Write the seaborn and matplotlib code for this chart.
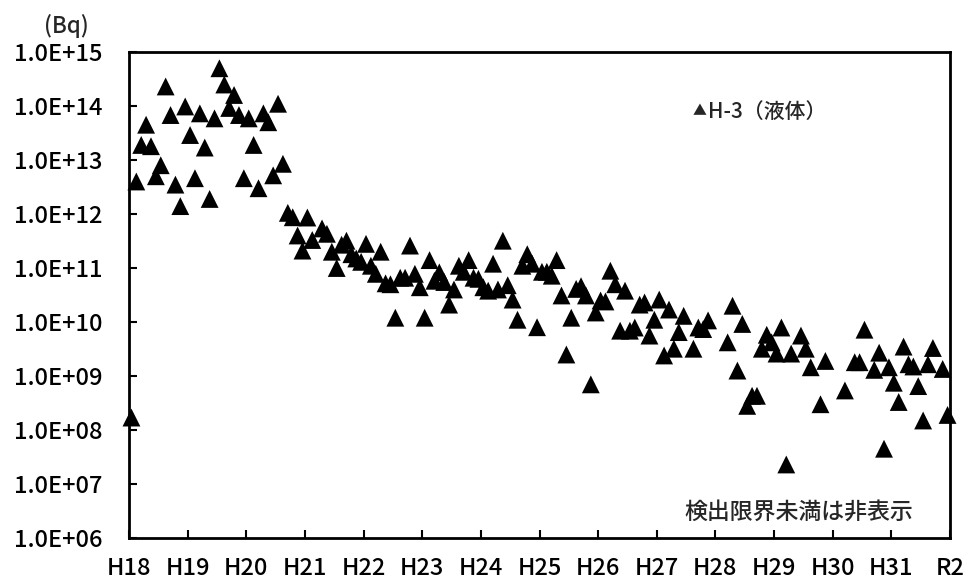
import numpy as np
import pandas as pd
import matplotlib
matplotlib.use("Agg")
import matplotlib.pyplot as plt
import seaborn as sns

# Monthly H-3 (liquid) release, months counted from April H18 (0) to March R2 (167).
# Months below the detection limit are left out.
months = [
    0, 1, 2, 3, 4, 5, 6, 7, 8, 9, 10, 11, 12, 13, 14, 15, 16, 17, 18, 19,
    20, 21, 22, 23, 24, 25, 26, 27, 28, 29, 30, 31, 32, 33, 34, 35, 36, 37, 39, 40,
    41, 42, 43, 44, 45, 46, 47, 48, 49, 50, 51, 52, 53, 54, 55, 56, 57, 58, 59, 60,
    61, 62, 63, 64, 65, 66, 67, 68, 69, 70, 71, 72, 73, 74, 75, 76, 77, 78, 79, 80,
    81, 82, 83, 84, 85, 86, 87, 88, 89, 90, 91, 92, 93, 94, 95, 96, 97, 98, 99, 100,
    101, 102, 103, 104, 105, 106, 107, 108, 109, 110, 111, 112, 113, 115, 116, 117, 118,
    122, 123, 124, 125, 126, 127, 128, 129, 130, 131, 132, 133, 134, 135, 137, 138, 139,
    141, 142, 146, 148, 149, 150, 152, 153, 154, 155, 156, 157, 158, 159, 160, 161, 162,
    163, 164, 166, 167,
]
h3_bq = [
    1.7e8, 4.0e12, 1.9e13, 4.5e13, 1.8e13, 5.0e12, 8.0e12, 2.3e14, 6.8e13, 3.5e12,
    1.4e12, 9.8e13, 2.9e13, 4.6e12, 7.3e13, 1.7e13, 1.9e12, 5.9e13, 5.0e14, 2.5e14,
    9.2e13, 1.6e14, 6.8e13, 4.6e12, 5.9e13, 1.9e13, 3.0e12, 7.3e13, 5.0e13, 5.2e12,
    1.1e14, 8.5e12, 1.05e12, 8.7e11, 4.0e11, 2.1e11, 8.6e11, 3.3e11, 5.4e11, 4.3e11,
    2.0e11, 1.0e11, 2.7e11, 3.2e11, 1.8e11, 1.5e11, 1.3e11, 2.8e11, 1.1e11, 7.8e10,
    2.0e11, 5.2e10, 5.0e10, 1.2e10, 6.6e10, 6.6e10, 2.6e11, 7.8e10, 4.4e10, 1.2e10,
    1.4e11, 5.8e10, 8.3e10, 5.5e10, 2.1e10, 4.0e10, 1.1e11, 8.5e10, 1.4e11, 6.6e10,
    6.3e10, 4.4e10, 3.8e10, 1.2e11, 4.0e10, 3.2e11, 4.8e10, 2.6e10, 1.1e10, 1.1e11,
    1.8e11, 1.2e11, 8.0e9, 8.5e10, 8.5e10, 7.2e10, 1.4e11, 3.1e10, 2.5e9, 1.2e10,
    4.1e10, 4.6e10, 3.1e10, 7.0e8, 1.5e10, 2.5e10, 2.4e10, 8.9e10, 5.0e10, 6.9e9,
    3.8e10, 6.9e9, 7.9e9, 2.1e10, 2.3e10, 5.6e9, 1.1e10, 2.6e10, 2.4e9, 1.7e10,
    3.2e9, 6.5e9, 1.3e10, 3.2e9, 7.9e9, 7.4e9, 1.07e10,
    4.2e9, 2.0e10, 1.26e9, 9.2e9, 2.8e8, 4.3e8, 4.3e8, 3.2e9, 5.8e9, 4.2e9, 2.6e9,
    7.9e9, 2.3e7, 2.6e9, 5.6e9, 3.2e9, 1.45e9,
    3.0e8, 1.9e9, 5.4e8, 1.8e9, 1.8e9, 7.2e9, 1.3e9, 2.7e9, 4.5e7, 1.45e9, 7.5e8,
    3.3e8, 3.5e9, 1.65e9, 1.5e9, 6.5e8, 1.5e8,
    1.65e9, 3.3e9, 1.35e9, 1.9e8,
]

year_labels = ["H18", "H19", "H20", "H21", "H22", "H23", "H24", "H25",
               "H26", "H27", "H28", "H29", "H30", "H31", "R2"]
y_ticks = [1e6, 1e7, 1e8, 1e9, 1e10, 1e11, 1e12, 1e13, 1e14, 1e15]
y_tick_labels = ["1.0E+06", "1.0E+07", "1.0E+08", "1.0E+09", "1.0E+10",
                 "1.0E+11", "1.0E+12", "1.0E+13", "1.0E+14", "1.0E+15"]

df = pd.DataFrame({"month": months, "bq": h3_bq})
df["year"] = (df["month"] + 0.5) / 12.0

sns.set_theme(style="white")
plt.rcParams["font.family"] = ["Noto Sans CJK JP", "DejaVu Sans"]

fig = plt.figure(figsize=(9.71, 5.88), dpi=100)
ax = fig.add_axes([129 / 971, 1 - 538 / 588, (950 - 129) / 971, (538 - 52) / 588])

sns.scatterplot(data=df, x="year", y="bq", marker="^", s=165, color="black",
                edgecolor="none", linewidth=0, legend=False, ax=ax, zorder=3,
                clip_on=False)

ax.set_yscale("log")
ax.set_ylim(1e6, 1e15)
ax.set_xlim(0, 14)
ax.set_xticks(np.arange(len(year_labels)))
ax.set_xticklabels(year_labels)
ax.set_yticks(y_ticks)
ax.set_yticklabels(y_tick_labels)
ax.yaxis.set_minor_locator(matplotlib.ticker.NullLocator())
ax.set_xlabel("")
ax.set_ylabel("")

for sp in ax.spines.values():
    sp.set_visible(True)
    sp.set_color("black")
    sp.set_linewidth(2.0)

ax.tick_params(axis="both", which="major", direction="in", length=6, width=1.5,
               color="black", labelsize=17, labelcolor="black")
ax.tick_params(axis="y", pad=19, left=True, right=False)
ax.tick_params(axis="x", pad=14, bottom=True, top=False)
for lab in ax.get_xticklabels() + ax.get_yticklabels():
    lab.set_fontweight("medium")

fig.text(66 / 971, 1 - 26 / 588, "(Bq)", ha="center", va="center", fontsize=16,
         fontweight="medium")
# legend entry: small marker glyph followed by the series name
fig.text(693 / 971, 1 - 111 / 588, "▲", ha="left", va="center", fontsize=10)
fig.text(708 / 971, 1 - 112 / 588, "H-3（液体）", ha="left", va="center", fontsize=15,
         fontweight="medium")
fig.text(913 / 971, 1 - 512 / 588, "検出限界未満は非表示", ha="right", va="center",
         fontsize=16.5, fontweight="medium")

fig.savefig("out.png", dpi=100)
